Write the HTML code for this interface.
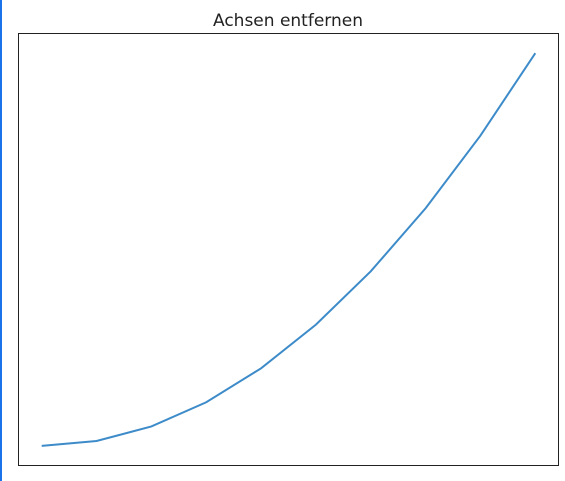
<!DOCTYPE html>
<html><head><meta charset="utf-8"><style>
html,body{margin:0;padding:0;background:#fff;}
body{width:565px;height:481px;overflow:hidden;position:relative;font-family:"Liberation Sans","DejaVu Sans",sans-serif;}
</style></head><body>
<div style="position:absolute;left:0;top:0;width:2px;height:481px;background:#1a73e8;"></div>
<svg width="565" height="481" style="position:absolute;left:0;top:0">
<text x="288" y="26" text-anchor="middle" font-size="17" font-family="DejaVu Sans, Liberation Sans, sans-serif" fill="#222">Achsen entfernen</text>
<rect x="18.5" y="33.5" width="540" height="432" fill="none" stroke="#222" stroke-width="1"/>
<g id="series"></g>
</svg>
<script>
const xValues=[0,1,2,3,4,5,6,7,8,9];
const yValues=[0,1,4,9,16,25,36,49,64,81];
const L=18.5,R=558.5,T=33.5,B=465.5;
const xmin=Math.min(...xValues),xmax=Math.max(...xValues),ymin=Math.min(...yValues),ymax=Math.max(...yValues);
const xm=(xmax-xmin)*0.047,ym=(ymax-ymin)*0.05;
function sx(v){return L+(v-(xmin-xm))/((xmax+xm)-(xmin-xm))*(R-L);}
function sy(v){return B-(v-(ymin-ym))/((ymax+ym)-(ymin-ym))*(B-T);}
const g=document.getElementById('series');
const p=document.createElementNS('http://www.w3.org/2000/svg','polyline');


p.setAttribute('points',xValues.map((x,i)=>sx(x)+','+sy(yValues[i])).join(' '));
p.setAttribute('fill','none');p.setAttribute('stroke','#3d8bc9');p.setAttribute('stroke-width','2');
g.appendChild(p);
</script>
</body></html>
